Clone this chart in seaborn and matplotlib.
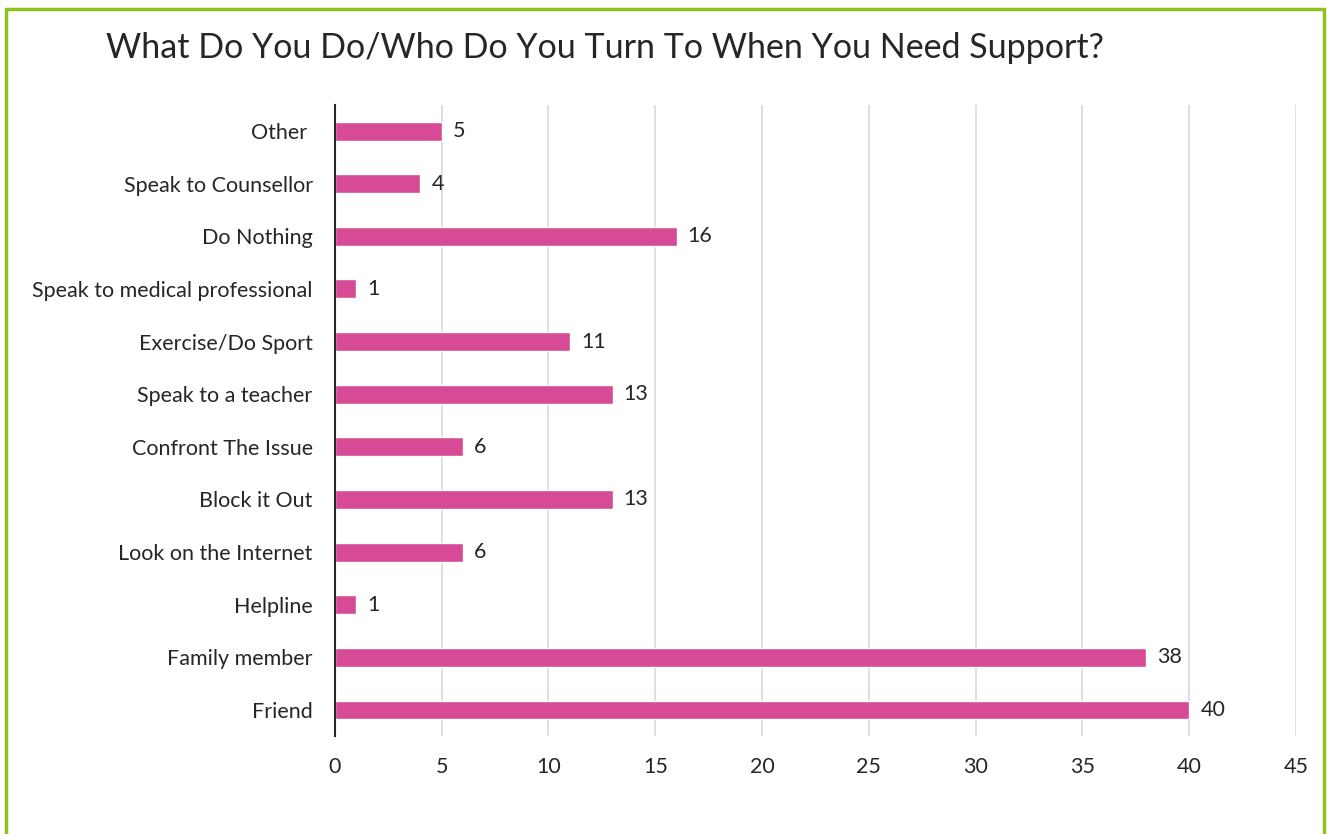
import matplotlib
matplotlib.use("Agg")
import matplotlib.pyplot as plt
import seaborn as sns
import pandas as pd
from matplotlib.patches import Rectangle

categories = ["Other ", "Speak to Counsellor", "Do Nothing", "Speak to medical professional",
              "Exercise/Do Sport", "Speak to a teacher", "Confront The Issue", "Block it Out",
              "Look on the Internet", "Helpline", "Family member", "Friend"]
values = [5, 4, 16, 1, 11, 13, 6, 13, 6, 1, 38, 40]
x_ticks = [0, 5, 10, 15, 20, 25, 30, 35, 40, 45]
title = "What Do You Do/Who Do You Turn To When You Need Support?"

sns.set_theme(style="white")
plt.rcParams['font.family'] = ['Lato', 'DejaVu Sans']

df = pd.DataFrame({"cat": categories, "val": values})

fig = plt.figure(figsize=(13.27, 8.34), dpi=100)
ax = fig.add_axes([0.2524, 0.1171, 0.7242, 0.7573])
sns.barplot(data=df, y="cat", x="val", order=categories, color="#D64A96",
            width=0.36, ax=ax, saturation=1)
ax.set_xlim(0, 45)
ax.set_ylim(11.5, -0.5)
ax.set_xticks(x_ticks)
ax.xaxis.grid(True, color="#D9D9D9", linewidth=1.2)
ax.set_axisbelow(True)
for s in ["top", "right", "bottom"]:
    ax.spines[s].set_visible(False)
ax.spines["left"].set_color("#262626")
ax.spines["left"].set_linewidth(1.5)
ax.set_xlabel("")
ax.set_ylabel("")
ax.tick_params(axis="both", length=0, labelsize=15.5, colors="#262626")
ax.tick_params(axis="x", pad=15)
ax.tick_params(axis="y", pad=16)
for c in ax.containers:
    ax.bar_label(c, padding=8, fontsize=15.5, color="#262626")

fig.text(0.456, 0.942, title, ha="center", va="center", fontsize=24.5, color="#262626")
fig.patches.append(Rectangle((0.0045, -0.1), 0.993, 1.089, transform=fig.transFigure,
                             fill=False, edgecolor="#8DC21F", linewidth=2.5))
fig.savefig("out.png", dpi=100, facecolor="white")
